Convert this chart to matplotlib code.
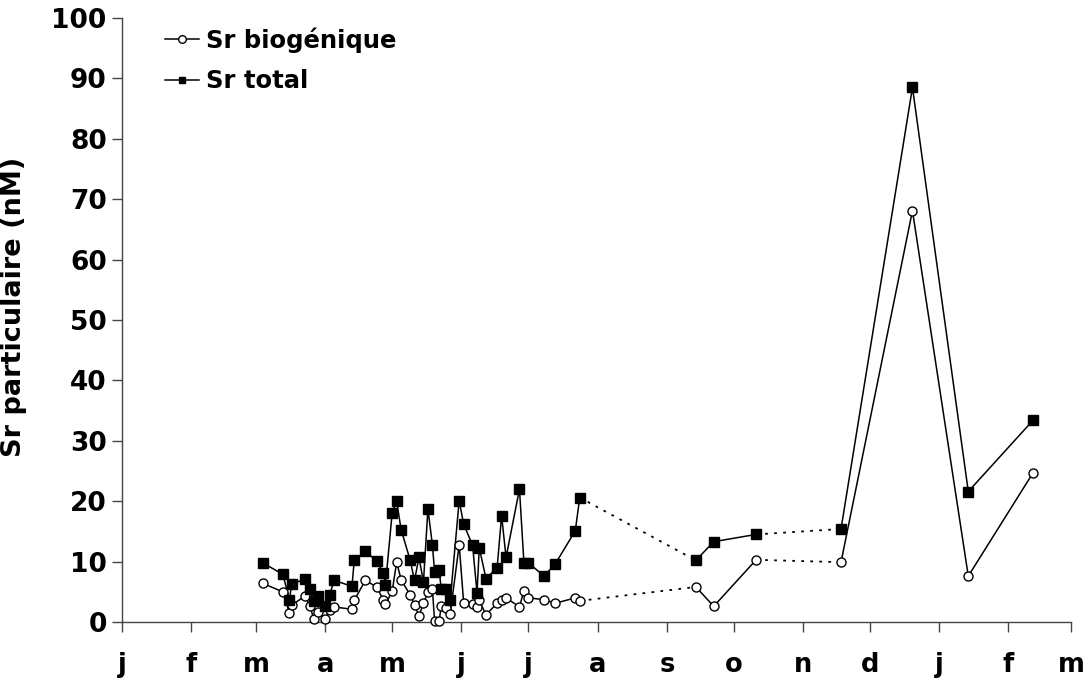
import matplotlib
matplotlib.use("Agg")
import matplotlib.pyplot as plt
from matplotlib.lines import Line2D
import pandas as pd

plt.rcParams['font.family'] = ['DejaVu Sans']

dates = ["2004-03-04", "2004-03-13", "2004-03-16", "2004-03-17", "2004-03-23", "2004-03-25",
         "2004-03-27", "2004-03-29", "2004-04-01", "2004-04-03", "2004-04-05", "2004-04-13",
         "2004-04-14", "2004-04-19", "2004-04-24", "2004-04-27", "2004-04-28", "2004-05-01",
         "2004-05-03", "2004-05-05", "2004-05-09", "2004-05-11", "2004-05-13", "2004-05-15",
         "2004-05-17", "2004-05-19", "2004-05-20", "2004-05-22", "2004-05-23", "2004-05-25",
         "2004-05-27", "2004-05-31", "2004-06-02", "2004-06-06", "2004-06-08", "2004-06-09",
         "2004-06-12", "2004-06-17", "2004-06-19", "2004-06-21", "2004-06-27", "2004-06-29",
         "2004-07-01", "2004-07-08", "2004-07-13", "2004-07-22", "2004-07-24", "2004-09-14",
         "2004-09-22", "2004-10-11", "2004-11-18", "2004-12-20", "2005-01-14", "2005-02-12"]

sr_biogenique = [6.4, 5.0, 1.5, 2.8, 4.3, 2.7, 0.5, 1.7, 0.5, 2.0, 2.5, 2.1,
                 3.6, 6.9, 5.8, 3.7, 2.9, 5.1, 9.9, 7.0, 4.5, 2.8, 1.0, 3.1,
                 4.9, 5.5, 0.1, 0.1, 2.7, 2.3, 1.4, 12.8, 3.2, 3.0, 2.5, 3.6,
                 1.2, 3.1, 3.6, 4.0, 2.5, 5.2, 4.0, 3.7, 3.1, 4.0, 3.5, 5.8,
                 2.6, 10.3, 9.9, 68.1, 7.6, 24.7]

sr_total = [9.8, 7.9, 3.7, 6.3, 7.1, 5.4, 3.4, 4.3, 2.7, 4.5, 6.9, 5.9,
            10.2, 11.7, 10.1, 8.1, 6.2, 18.1, 20.0, 15.3, 10.3, 6.9, 10.7, 6.6,
            18.7, 12.8, 8.3, 8.6, 5.4, 5.4, 3.6, 20.1, 16.2, 12.7, 4.8, 12.3,
            7.2, 9.0, 17.6, 10.7, 22.0, 9.8, 9.8, 7.6, 9.6, 15.1, 20.6, 10.2,
            13.3, 14.5, 15.4, 88.5, 21.6, 33.4]

# indices after which the connection to the next point is dotted
dotted_after = [46, 49]

month_labels = ["j", "f", "m", "a", "m", "j", "j", "a", "s", "o", "n", "d", "j", "f", "m"]
yticks = list(range(0, 101, 10))

x = pd.to_datetime(dates)

W, H = 1089, 684
fig = plt.figure(figsize=(W / 100, H / 100), dpi=100)
ax = fig.add_axes([122 / W, (H - 622) / H, (1071 - 122) / W, (622 - 18) / H])

axis_col = "#444444"

def draw_series(yvals, marker, mfc):
    n = len(yvals)
    breaks = [-1] + dotted_after + [n - 1]
    for a, b in zip(breaks[:-1], breaks[1:]):
        ax.plot(x[a + 1:b + 1], yvals[a + 1:b + 1], color="black", lw=1.1,
                clip_on=False, zorder=2)
    for i in dotted_after:
        ax.plot(x[i:i + 2], yvals[i:i + 2], color="black", lw=1.3,
                linestyle=(0, (1.5, 3.5)), clip_on=False, zorder=2)
    ax.plot(x, yvals, linestyle="none", marker=marker, markersize=6.5,
            markerfacecolor=mfc, markeredgecolor="black", markeredgewidth=1.0,
            clip_on=False, zorder=3)

draw_series(sr_biogenique, "o", "white")
draw_series(sr_total, "s", "black")

ax.set_xlim(pd.Timestamp("2004-01-01"), pd.Timestamp("2005-03-01"))
ax.set_ylim(0, 100)
tick_pos = pd.date_range("2004-01-01", "2005-03-01", freq="MS")
ax.set_xticks(tick_pos)
ax.set_xticklabels(month_labels)
ax.set_yticks(yticks)
ax.set_yticklabels([str(v) for v in yticks])

for s in ["top", "right"]:
    ax.spines[s].set_visible(False)
for s in ["left", "bottom"]:
    ax.spines[s].set_color(axis_col)
    ax.spines[s].set_linewidth(1.0)

ax.tick_params(axis="x", direction="out", length=7.5, width=1.0, color=axis_col,
               labelsize=18.5, pad=14)
ax.tick_params(axis="y", direction="out", length=7.5, width=1.0, color=axis_col,
               labelsize=19, pad=3.5)
for lab in ax.get_xticklabels() + ax.get_yticklabels():
    lab.set_fontweight("bold")

ax.set_ylabel("Sr particulaire (nM)", fontsize=19.5, fontweight="bold")
ax.yaxis.set_label_coords(27 / W, (H - 307) / H, transform=fig.transFigure)

handles = [
    Line2D([], [], color="black", lw=1.1, marker="o", markersize=5.5,
           markerfacecolor="white", markeredgecolor="black"),
    Line2D([], [], color="black", lw=1.1, marker="s", markersize=5,
           markerfacecolor="black", markeredgecolor="black"),
]
leg = ax.legend(handles, ["Sr biogénique", "Sr total"], loc="upper left",
                bbox_to_anchor=(148 / W, 1 - 10 / H), bbox_transform=fig.transFigure,
                frameon=False, handlelength=1.4, handletextpad=0.3, labelspacing=0.69,
                borderaxespad=0.3, prop={"weight": "bold", "size": 17.5})

fig.savefig("out.png", dpi=100)
